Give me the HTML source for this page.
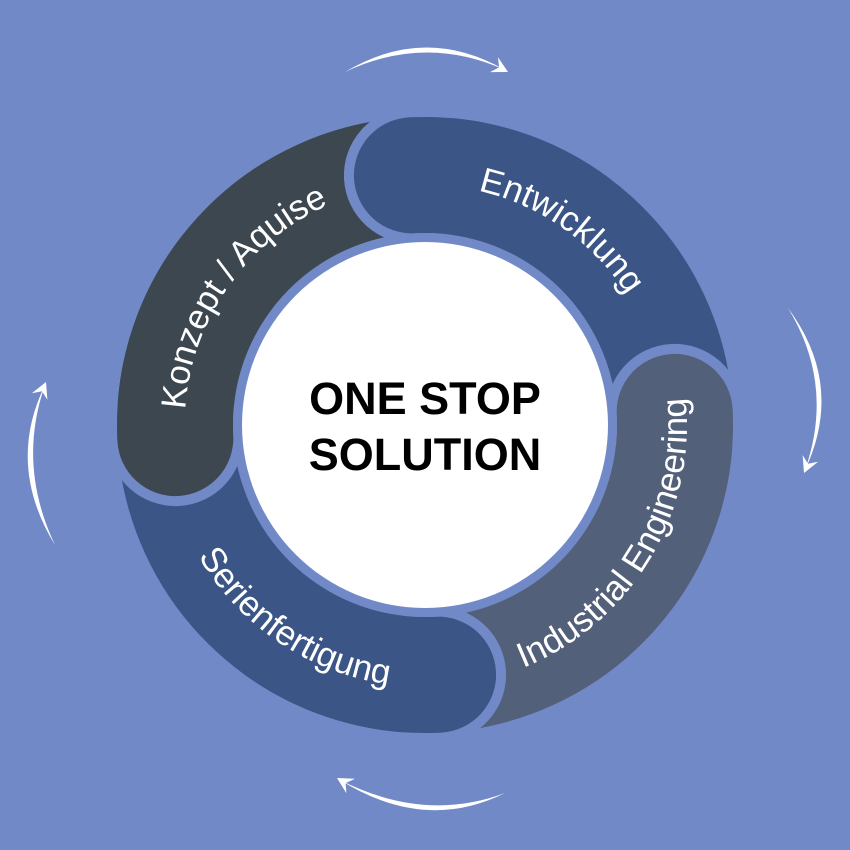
<!DOCTYPE html>
<html><head><meta charset="utf-8"><style>
html,body{margin:0;padding:0;background:#7189c6;}
svg{display:block;}
text{font-family:"Liberation Sans",sans-serif;}
</style></head><body>
<svg width="850" height="850" viewBox="0 0 850 850" xmlns="http://www.w3.org/2000/svg">
<rect width="850" height="850" fill="#7189c6"/>
<defs>
<path id="cw" d="M188.6,383.3 A240 240 0 0 1 661.4,383.3"/>
<path id="ccw" d="M166.98,470.5 A262 262 0 0 0 683.0,470.5"/>
</defs>

<!-- butt arcs -->
<g fill="none" stroke-width="116">
<circle cx="425" cy="425" r="250" stroke="#3d4750" stroke-dasharray="458 2000" transform="rotate(177 425 425)"/>
<circle cx="425" cy="425" r="250" stroke="#3b5686" stroke-dasharray="458 2000" transform="rotate(267 425 425)"/>
<circle cx="425" cy="425" r="250" stroke="#536079" stroke-dasharray="458 2000" transform="rotate(357 425 425)"/>
<circle cx="425" cy="425" r="250" stroke="#3b5686" stroke-dasharray="458 2000" transform="rotate(87 425 425)"/>
</g>
<!-- caps -->
<g transform="rotate(177 425 425)">
<circle cx="675" cy="425" r="68" fill="#7189c6"/><circle cx="675" cy="425" r="58" fill="#3d4750"/>
<circle cx="425" cy="425" r="250" fill="none" stroke="#3d4750" stroke-width="116" stroke-dasharray="175 2000"/>
</g>
<g transform="rotate(267 425 425)">
<circle cx="675" cy="425" r="68" fill="#7189c6"/><circle cx="675" cy="425" r="58" fill="#3b5686"/>
<circle cx="425" cy="425" r="250" fill="none" stroke="#3b5686" stroke-width="116" stroke-dasharray="175 2000"/>
</g>
<g transform="rotate(357 425 425)">
<circle cx="675" cy="425" r="68" fill="#7189c6"/><circle cx="675" cy="425" r="58" fill="#536079"/>
<circle cx="425" cy="425" r="250" fill="none" stroke="#536079" stroke-width="116" stroke-dasharray="175 2000"/>
</g>
<g transform="rotate(87 425 425)">
<circle cx="675" cy="425" r="68" fill="#7189c6"/><circle cx="675" cy="425" r="58" fill="#3b5686"/>
<circle cx="425" cy="425" r="250" fill="none" stroke="#3b5686" stroke-width="116" stroke-dasharray="175 2000"/>
</g>
<circle cx="425" cy="425" r="192" fill="#7189c6"/>
<circle cx="425" cy="425" r="183" fill="#fff"/>

<!-- ring labels -->
<g fill="#fff" font-size="35">
<g transform="rotate(35 425 425)"><text><textPath href="#cw" startOffset="50%" text-anchor="middle">Entwicklung</textPath></text></g>
<g transform="rotate(-55 425 425)"><text><textPath href="#cw" startOffset="50%" text-anchor="middle">Konzept / Aquise</textPath></text></g>
<g transform="rotate(-59 425 425)"><text><textPath href="#ccw" startOffset="50%" text-anchor="middle">Industrial Engineering</textPath></text></g>
<g transform="rotate(34 425 425)"><text><textPath href="#ccw" startOffset="50%" text-anchor="middle">Serienfertigung</textPath></text></g>
</g>

<text x="425" y="414" text-anchor="middle" font-size="45" font-weight="bold" fill="#000">ONE STOP</text>
<text x="425" y="470" text-anchor="middle" font-size="45" font-weight="bold" fill="#000">SOLUTION</text>

<!-- outer arrows -->
<g fill="#fff">
<path d="M345,72 Q425,24 505,70 Q425,34 345,72Z"/>
<path d="M508,72 L497.9,57.1 L499.2,67.4 L490,72.1Z"/>
<path d="M788,308 Q845,385 805,470 Q835,385 788,308Z"/>
<path d="M804,473 L818.1,461.8 L808,463.8 L802.6,455.1Z"/>
<path d="M505,793 Q425,833 340,780 Q425,823 505,793Z"/>
<path d="M337,778 L346.4,793.3 L345.6,783.1 L355,778.8Z"/>
<path d="M55,545 Q6,465 45,385 Q17,465 55,545Z"/>
<path d="M46,382 L31.9,393.2 L42,391.2 L47.4,399.9Z"/>
</g>
</svg>
</body></html>
